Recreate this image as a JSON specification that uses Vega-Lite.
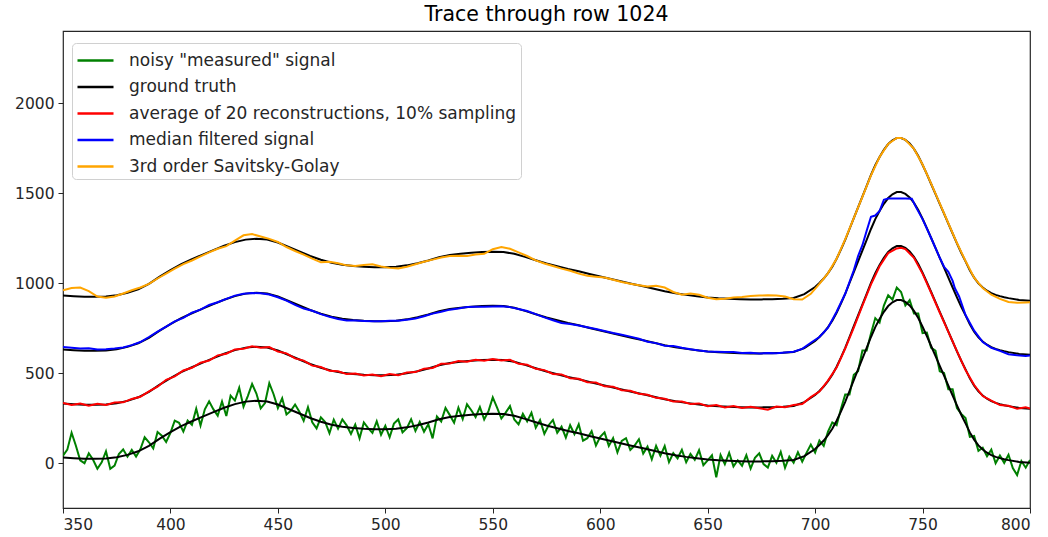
{
  "$schema": "https://vega.github.io/schema/vega-lite/v6.json",
  "width": 967,
  "height": 477,
  "autosize": {"type": "none"},
  "padding": {"left": 63, "top": 31, "right": 18, "bottom": 29},
  "background": "white",
  "title": {"text": "Trace through row 1024", "font": "DejaVu Sans", "fontSize": 20.5, "fontWeight": "normal", "color": "#000000", "offset": 6, "anchor": "middle"},
  "config": {
    "view": {"stroke": "#262626", "strokeWidth": 1.2},
    "axis": {"grid": false, "domain": false, "labelFont": "DejaVu Sans", "labelFontSize": 15.5, "labelColor": "#262626", "tickColor": "#262626", "tickSize": 5, "tickWidth": 1, "labelPadding": 4, "title": null}
  },
  "datasets": {
    "truth": [
      {"x":350,"a":30,"b":330,"c":630,"d":930},{"x":355,"a":27,"b":327,"c":627,"d":927},{"x":360,"a":24,"b":324,"c":624,"d":924},{"x":365,"a":23,"b":323,"c":623,"d":923},{"x":370,"a":25,"b":325,"c":625,"d":925},{"x":375,"a":32,"b":332,"c":632,"d":932},{"x":380,"a":45,"b":345,"c":645,"d":945},{"x":385,"a":65,"b":365,"c":665,"d":965},{"x":390,"a":95,"b":395,"c":695,"d":995},{"x":395,"a":135,"b":435,"c":735,"d":1035},{"x":400,"a":172,"b":472,"c":772,"d":1072},{"x":405,"a":205,"b":505,"c":805,"d":1105},{"x":410,"a":232,"b":532,"c":832,"d":1132},{"x":415,"a":258,"b":558,"c":858,"d":1158},{"x":420,"a":283,"b":583,"c":883,"d":1183},{"x":425,"a":307,"b":607,"c":907,"d":1207},{"x":430,"a":327,"b":627,"c":927,"d":1227},{"x":435,"a":341,"b":641,"c":941,"d":1241},{"x":440,"a":346,"b":646,"c":946,"d":1246},{"x":445,"a":342,"b":642,"c":942,"d":1242},{"x":450,"a":325,"b":625,"c":925,"d":1225},{"x":455,"a":300,"b":600,"c":900,"d":1200},{"x":460,"a":275,"b":575,"c":875,"d":1175},{"x":465,"a":250,"b":550,"c":850,"d":1150},{"x":470,"a":229,"b":529,"c":829,"d":1129},{"x":475,"a":213,"b":513,"c":813,"d":1113},{"x":480,"a":202,"b":502,"c":802,"d":1102},{"x":485,"a":195,"b":495,"c":795,"d":1095},{"x":490,"a":190,"b":490,"c":790,"d":1090},{"x":495,"a":187,"b":487,"c":787,"d":1087},{"x":500,"a":187,"b":487,"c":787,"d":1087},{"x":505,"a":190,"b":490,"c":790,"d":1090},{"x":510,"a":198,"b":498,"c":798,"d":1098},{"x":515,"a":210,"b":510,"c":810,"d":1110},{"x":520,"a":225,"b":525,"c":825,"d":1125},{"x":525,"a":243,"b":543,"c":843,"d":1143},{"x":530,"a":256,"b":556,"c":856,"d":1156},{"x":535,"a":263,"b":563,"c":863,"d":1163},{"x":540,"a":268,"b":568,"c":868,"d":1168},{"x":545,"a":272,"b":572,"c":872,"d":1172},{"x":550,"a":274,"b":574,"c":874,"d":1174},{"x":555,"a":272,"b":572,"c":872,"d":1172},{"x":560,"a":262,"b":562,"c":862,"d":1162},{"x":565,"a":245,"b":545,"c":845,"d":1145},{"x":570,"a":226,"b":526,"c":826,"d":1126},{"x":575,"a":208,"b":508,"c":808,"d":1108},{"x":580,"a":193,"b":493,"c":793,"d":1093},{"x":585,"a":178,"b":478,"c":778,"d":1078},{"x":590,"a":165,"b":465,"c":765,"d":1065},{"x":595,"a":150,"b":450,"c":750,"d":1050},{"x":600,"a":136,"b":436,"c":736,"d":1036},{"x":605,"a":122,"b":422,"c":722,"d":1022},{"x":610,"a":108,"b":408,"c":708,"d":1008},{"x":615,"a":95,"b":395,"c":695,"d":995},{"x":620,"a":82,"b":382,"c":682,"d":982},{"x":625,"a":68,"b":368,"c":668,"d":968},{"x":630,"a":54,"b":354,"c":654,"d":954},{"x":635,"a":43,"b":343,"c":643,"d":943},{"x":640,"a":34,"b":334,"c":634,"d":934},{"x":645,"a":27,"b":327,"c":627,"d":927},{"x":650,"a":20,"b":320,"c":620,"d":920},{"x":655,"a":15,"b":315,"c":615,"d":915},{"x":660,"a":12,"b":312,"c":612,"d":912},{"x":665,"a":10,"b":310,"c":610,"d":910},{"x":670,"a":9,"b":309,"c":609,"d":909},{"x":675,"a":9,"b":309,"c":609,"d":909},{"x":680,"a":10,"b":310,"c":610,"d":910},{"x":685,"a":12,"b":312,"c":612,"d":912},{"x":690,"a":17,"b":317,"c":617,"d":917},{"x":695,"a":38,"b":338,"c":638,"d":938},{"x":700,"a":78,"b":378,"c":678,"d":978},{"x":702,"a":100,"b":400,"c":700,"d":1000},{"x":704,"a":125,"b":425,"c":725,"d":1025},{"x":706,"a":155,"b":455,"c":755,"d":1055},{"x":708,"a":190,"b":490,"c":790,"d":1090},{"x":710,"a":235,"b":535,"c":835,"d":1135},{"x":712,"a":285,"b":585,"c":885,"d":1185},{"x":714,"a":340,"b":640,"c":940,"d":1240},{"x":716,"a":400,"b":700,"c":1000,"d":1300},{"x":718,"a":460,"b":760,"c":1060,"d":1360},{"x":720,"a":520,"b":820,"c":1120,"d":1420},{"x":722,"a":580,"b":880,"c":1180,"d":1480},{"x":724,"a":640,"b":940,"c":1240,"d":1540},{"x":726,"a":700,"b":1000,"c":1300,"d":1600},{"x":728,"a":755,"b":1055,"c":1355,"d":1655},{"x":730,"a":800,"b":1100,"c":1400,"d":1700},{"x":732,"a":840,"b":1140,"c":1440,"d":1740},{"x":734,"a":872,"b":1172,"c":1472,"d":1772},{"x":736,"a":893,"b":1193,"c":1493,"d":1793},{"x":738,"a":905,"b":1205,"c":1505,"d":1805},{"x":740,"a":905,"b":1205,"c":1505,"d":1805},{"x":742,"a":895,"b":1195,"c":1495,"d":1795},{"x":744,"a":875,"b":1175,"c":1475,"d":1775},{"x":746,"a":845,"b":1145,"c":1445,"d":1745},{"x":748,"a":805,"b":1105,"c":1405,"d":1705},{"x":750,"a":757,"b":1057,"c":1357,"d":1657},{"x":752,"a":705,"b":1005,"c":1305,"d":1605},{"x":754,"a":650,"b":950,"c":1250,"d":1550},{"x":756,"a":595,"b":895,"c":1195,"d":1495},{"x":758,"a":540,"b":840,"c":1140,"d":1440},{"x":760,"a":485,"b":785,"c":1085,"d":1385},{"x":762,"a":430,"b":730,"c":1030,"d":1330},{"x":764,"a":375,"b":675,"c":975,"d":1275},{"x":766,"a":320,"b":620,"c":920,"d":1220},{"x":768,"a":268,"b":568,"c":868,"d":1168},{"x":770,"a":220,"b":520,"c":820,"d":1120},{"x":772,"a":170,"b":470,"c":770,"d":1070},{"x":774,"a":130,"b":430,"c":730,"d":1030},{"x":776,"a":98,"b":398,"c":698,"d":998},{"x":778,"a":75,"b":375,"c":675,"d":975},{"x":780,"a":57,"b":357,"c":657,"d":957},{"x":782,"a":44,"b":344,"c":644,"d":944},{"x":784,"a":34,"b":334,"c":634,"d":934},{"x":786,"a":27,"b":327,"c":627,"d":927},{"x":788,"a":21,"b":321,"c":621,"d":921},{"x":790,"a":16,"b":316,"c":616,"d":916},{"x":795,"a":6,"b":306,"c":606,"d":906},{"x":800,"a":2,"b":302,"c":602,"d":902}
    ],
    "noisy": [
      {"x":350,"y":40},{"x":352,"y":74},{"x":354,"y":168},{"x":356,"y":96},{"x":358,"y":15},{"x":360,"y":-1},{"x":362,"y":54},{"x":364,"y":18},{"x":366,"y":-32},{"x":368,"y":4},{"x":370,"y":65},{"x":372,"y":-32},{"x":374,"y":-14},{"x":376,"y":50},{"x":378,"y":75},{"x":380,"y":35},{"x":382,"y":73},{"x":384,"y":36},{"x":386,"y":76},{"x":388,"y":143},{"x":390,"y":115},{"x":392,"y":81},{"x":394,"y":172},{"x":396,"y":152},{"x":398,"y":117},{"x":400,"y":167},{"x":402,"y":235},{"x":404,"y":223},{"x":406,"y":175},{"x":408,"y":236},{"x":410,"y":212},{"x":412,"y":302},{"x":414,"y":208},{"x":416,"y":298},{"x":418,"y":343},{"x":420,"y":298},{"x":422,"y":263},{"x":424,"y":342},{"x":426,"y":261},{"x":428,"y":374},{"x":430,"y":347},{"x":432,"y":418},{"x":434,"y":313},{"x":436,"y":372},{"x":438,"y":439},{"x":440,"y":386},{"x":442,"y":304},{"x":444,"y":333},{"x":446,"y":443},{"x":448,"y":382},{"x":450,"y":305},{"x":452,"y":360},{"x":454,"y":270},{"x":456,"y":290},{"x":458,"y":325},{"x":460,"y":285},{"x":462,"y":235},{"x":464,"y":310},{"x":466,"y":226},{"x":468,"y":192},{"x":470,"y":254},{"x":472,"y":228},{"x":474,"y":166},{"x":476,"y":241},{"x":478,"y":191},{"x":480,"y":242},{"x":482,"y":209},{"x":484,"y":161},{"x":486,"y":214},{"x":488,"y":137},{"x":490,"y":225},{"x":492,"y":194},{"x":494,"y":167},{"x":496,"y":232},{"x":498,"y":157},{"x":500,"y":207},{"x":502,"y":143},{"x":504,"y":219},{"x":506,"y":242},{"x":508,"y":170},{"x":510,"y":193},{"x":512,"y":243},{"x":514,"y":178},{"x":516,"y":228},{"x":518,"y":174},{"x":520,"y":215},{"x":522,"y":137},{"x":524,"y":259},{"x":526,"y":231},{"x":528,"y":306},{"x":530,"y":266},{"x":532,"y":224},{"x":534,"y":307},{"x":536,"y":244},{"x":538,"y":326},{"x":540,"y":293},{"x":542,"y":255},{"x":544,"y":311},{"x":546,"y":242},{"x":548,"y":288},{"x":550,"y":364},{"x":552,"y":308},{"x":554,"y":247},{"x":556,"y":280},{"x":558,"y":316},{"x":560,"y":242},{"x":562,"y":215},{"x":564,"y":273},{"x":566,"y":231},{"x":568,"y":279},{"x":570,"y":196},{"x":572,"y":239},{"x":574,"y":162},{"x":576,"y":210},{"x":578,"y":239},{"x":580,"y":168},{"x":582,"y":202},{"x":584,"y":141},{"x":586,"y":210},{"x":588,"y":160},{"x":590,"y":215},{"x":592,"y":124},{"x":594,"y":138},{"x":596,"y":177},{"x":598,"y":97},{"x":600,"y":146},{"x":602,"y":170},{"x":604,"y":95},{"x":606,"y":139},{"x":608,"y":59},{"x":610,"y":123},{"x":612,"y":138},{"x":614,"y":73},{"x":616,"y":97},{"x":618,"y":132},{"x":620,"y":52},{"x":622,"y":91},{"x":624,"y":21},{"x":626,"y":95},{"x":628,"y":40},{"x":630,"y":94},{"x":632,"y":5},{"x":634,"y":55},{"x":636,"y":26},{"x":638,"y":73},{"x":640,"y":4},{"x":642,"y":51},{"x":644,"y":18},{"x":646,"y":71},{"x":648,"y":-12},{"x":650,"y":15},{"x":652,"y":43},{"x":654,"y":-79},{"x":656,"y":44},{"x":658,"y":-7},{"x":660,"y":57},{"x":662,"y":-19},{"x":664,"y":15},{"x":666,"y":-15},{"x":668,"y":44},{"x":670,"y":-31},{"x":672,"y":29},{"x":674,"y":54},{"x":676,"y":-6},{"x":678,"y":-25},{"x":680,"y":40},{"x":682,"y":1},{"x":684,"y":62},{"x":686,"y":-27},{"x":688,"y":35},{"x":690,"y":2},{"x":692,"y":60},{"x":694,"y":8},{"x":696,"y":56},{"x":698,"y":102},{"x":700,"y":58},{"x":702,"y":125},{"x":704,"y":95},{"x":706,"y":175},{"x":708,"y":225},{"x":710,"y":210},{"x":712,"y":300},{"x":714,"y":380},{"x":716,"y":380},{"x":718,"y":490},{"x":720,"y":510},{"x":722,"y":625},{"x":724,"y":625},{"x":726,"y":720},{"x":728,"y":805},{"x":730,"y":780},{"x":732,"y":875},{"x":734,"y":932},{"x":736,"y":908},{"x":738,"y":975},{"x":740,"y":950},{"x":742,"y":875},{"x":744,"y":905},{"x":746,"y":830},{"x":748,"y":830},{"x":750,"y":722},{"x":752,"y":725},{"x":754,"y":640},{"x":756,"y":625},{"x":758,"y":510},{"x":760,"y":500},{"x":762,"y":410},{"x":764,"y":410},{"x":766,"y":305},{"x":768,"y":273},{"x":770,"y":250},{"x":772,"y":145},{"x":774,"y":150},{"x":776,"y":68},{"x":778,"y":85},{"x":780,"y":37},{"x":782,"y":74},{"x":784,"y":-1},{"x":786,"y":42},{"x":788,"y":1},{"x":790,"y":46},{"x":792,"y":-28},{"x":794,"y":-67},{"x":796,"y":11},{"x":798,"y":-26},{"x":800,"y":17}
    ],
    "red": [
      {"x":350,"y":333},{"x":354,"y":322},{"x":358,"y":331},{"x":362,"y":318},{"x":366,"y":329},{"x":370,"y":322},{"x":374,"y":336},{"x":378,"y":337},{"x":382,"y":356},{"x":386,"y":368},{"x":390,"y":398},{"x":394,"y":424},{"x":398,"y":462},{"x":402,"y":481},{"x":406,"y":514},{"x":410,"y":529},{"x":414,"y":557},{"x":418,"y":569},{"x":422,"y":598},{"x":426,"y":607},{"x":430,"y":631},{"x":434,"y":635},{"x":438,"y":649},{"x":442,"y":640},{"x":446,"y":644},{"x":450,"y":619},{"x":454,"y":609},{"x":458,"y":581},{"x":462,"y":569},{"x":466,"y":541},{"x":470,"y":533},{"x":474,"y":512},{"x":478,"y":510},{"x":482,"y":494},{"x":486,"y":497},{"x":490,"y":486},{"x":494,"y":491},{"x":498,"y":482},{"x":502,"y":494},{"x":506,"y":487},{"x":510,"y":503},{"x":514,"y":505},{"x":518,"y":524},{"x":522,"y":528},{"x":526,"y":551},{"x":530,"y":553},{"x":534,"y":566},{"x":538,"y":562},{"x":542,"y":574},{"x":546,"y":568},{"x":550,"y":578},{"x":554,"y":569},{"x":558,"y":573},{"x":562,"y":551},{"x":566,"y":546},{"x":570,"y":523},{"x":574,"y":516},{"x":578,"y":495},{"x":582,"y":492},{"x":586,"y":471},{"x":590,"y":468},{"x":594,"y":449},{"x":598,"y":447},{"x":602,"y":426},{"x":606,"y":424},{"x":610,"y":404},{"x":614,"y":401},{"x":618,"y":385},{"x":622,"y":379},{"x":626,"y":362},{"x":630,"y":357},{"x":634,"y":341},{"x":638,"y":342},{"x":642,"y":328},{"x":646,"y":331},{"x":650,"y":316},{"x":654,"y":322},{"x":658,"y":309},{"x":662,"y":316},{"x":666,"y":306},{"x":670,"y":313},{"x":674,"y":304},{"x":678,"y":296},{"x":682,"y":314},{"x":686,"y":310},{"x":690,"y":322},{"x":694,"y":328},{"x":698,"y":366},{"x":702,"y":397},{"x":706,"y":458},{"x":710,"y":530},{"x":714,"y":636},{"x":718,"y":752},{"x":722,"y":874},{"x":726,"y":992},{"x":730,"y":1093},{"x":734,"y":1166},{"x":738,"y":1192},{"x":740,"y":1196},{"x":742,"y":1188},{"x":746,"y":1140},{"x":750,"y":1052},{"x":754,"y":946},{"x":758,"y":836},{"x":762,"y":728},{"x":766,"y":622},{"x":770,"y":516},{"x":774,"y":433},{"x":778,"y":372},{"x":782,"y":346},{"x":786,"y":322},{"x":790,"y":318},{"x":794,"y":301},{"x":798,"y":309},{"x":800,"y":303}
    ],
    "blue": [
      {"x":350,"y":645},{"x":354,"y":640},{"x":358,"y":636},{"x":362,"y":638},{"x":366,"y":630},{"x":370,"y":632},{"x":374,"y":636},{"x":378,"y":642},{"x":382,"y":655},{"x":386,"y":672},{"x":390,"y":700},{"x":394,"y":730},{"x":398,"y":758},{"x":402,"y":787},{"x":406,"y":806},{"x":410,"y":835},{"x":414,"y":852},{"x":418,"y":878},{"x":422,"y":893},{"x":426,"y":912},{"x":430,"y":930},{"x":434,"y":940},{"x":438,"y":944},{"x":442,"y":943},{"x":446,"y":936},{"x":450,"y":921},{"x":454,"y":902},{"x":458,"y":878},{"x":462,"y":858},{"x":466,"y":846},{"x":470,"y":827},{"x":474,"y":812},{"x":478,"y":800},{"x":482,"y":792},{"x":486,"y":792},{"x":490,"y":789},{"x":494,"y":787},{"x":498,"y":788},{"x":502,"y":790},{"x":506,"y":790},{"x":510,"y":796},{"x":514,"y":803},{"x":518,"y":815},{"x":522,"y":830},{"x":526,"y":840},{"x":530,"y":852},{"x":534,"y":858},{"x":538,"y":866},{"x":542,"y":868},{"x":546,"y":868},{"x":550,"y":869},{"x":554,"y":871},{"x":558,"y":866},{"x":562,"y":856},{"x":566,"y":844},{"x":570,"y":827},{"x":574,"y":809},{"x":578,"y":793},{"x":582,"y":778},{"x":586,"y":772},{"x":590,"y":764},{"x":594,"y":754},{"x":598,"y":744},{"x":602,"y":733},{"x":606,"y":722},{"x":610,"y":713},{"x":614,"y":702},{"x":618,"y":690},{"x":622,"y":674},{"x":626,"y":666},{"x":630,"y":652},{"x":634,"y":650},{"x":638,"y":640},{"x":642,"y":632},{"x":646,"y":625},{"x":650,"y":620},{"x":654,"y":618},{"x":658,"y":617},{"x":662,"y":616},{"x":666,"y":611},{"x":670,"y":612},{"x":674,"y":609},{"x":678,"y":611},{"x":682,"y":610},{"x":686,"y":614},{"x":690,"y":618},{"x":694,"y":634},{"x":698,"y":668},{"x":702,"y":700},{"x":706,"y":752},{"x":710,"y":840},{"x":714,"y":940},{"x":718,"y":1070},{"x":720,"y":1150},{"x":722,"y":1210},{"x":724,"y":1290},{"x":726,"y":1368},{"x":728,"y":1375},{"x":730,"y":1400},{"x":732,"y":1462},{"x":734,"y":1470},{"x":738,"y":1470},{"x":742,"y":1470},{"x":745,"y":1468},{"x":747,"y":1420},{"x":750,"y":1355},{"x":754,"y":1250},{"x":758,"y":1140},{"x":760,"y":1090},{"x":762,"y":1062},{"x":764,"y":1012},{"x":765,"y":972},{"x":767,"y":925},{"x":770,"y":822},{"x":774,"y":735},{"x":778,"y":672},{"x":782,"y":640},{"x":786,"y":623},{"x":790,"y":604},{"x":794,"y":598},{"x":798,"y":594},{"x":800,"y":597}
    ],
    "orange": [
      {"x":350,"y":960},{"x":354,"y":972},{"x":358,"y":975},{"x":362,"y":955},{"x":366,"y":925},{"x":370,"y":918},{"x":374,"y":925},{"x":378,"y":942},{"x":382,"y":960},{"x":386,"y":975},{"x":390,"y":995},{"x":394,"y":1025},{"x":398,"y":1052},{"x":402,"y":1080},{"x":406,"y":1105},{"x":410,"y":1125},{"x":414,"y":1148},{"x":418,"y":1170},{"x":422,"y":1190},{"x":426,"y":1205},{"x":430,"y":1235},{"x":434,"y":1265},{"x":438,"y":1272},{"x":442,"y":1258},{"x":446,"y":1245},{"x":450,"y":1228},{"x":454,"y":1200},{"x":458,"y":1178},{"x":462,"y":1158},{"x":466,"y":1135},{"x":470,"y":1115},{"x":474,"y":1118},{"x":478,"y":1110},{"x":482,"y":1098},{"x":486,"y":1094},{"x":490,"y":1100},{"x":494,"y":1104},{"x":498,"y":1092},{"x":502,"y":1084},{"x":506,"y":1080},{"x":510,"y":1090},{"x":514,"y":1104},{"x":518,"y":1118},{"x":522,"y":1130},{"x":526,"y":1142},{"x":530,"y":1150},{"x":534,"y":1152},{"x":538,"y":1150},{"x":542,"y":1158},{"x":546,"y":1162},{"x":550,"y":1188},{"x":554,"y":1200},{"x":558,"y":1190},{"x":562,"y":1170},{"x":566,"y":1150},{"x":570,"y":1126},{"x":574,"y":1108},{"x":578,"y":1094},{"x":582,"y":1080},{"x":586,"y":1068},{"x":590,"y":1052},{"x":594,"y":1040},{"x":598,"y":1035},{"x":602,"y":1030},{"x":606,"y":1018},{"x":610,"y":1006},{"x":614,"y":996},{"x":618,"y":988},{"x":622,"y":980},{"x":626,"y":985},{"x":630,"y":975},{"x":634,"y":950},{"x":638,"y":935},{"x":642,"y":942},{"x":646,"y":935},{"x":650,"y":918},{"x":654,"y":910},{"x":658,"y":912},{"x":662,"y":920},{"x":666,"y":922},{"x":670,"y":928},{"x":674,"y":930},{"x":678,"y":932},{"x":682,"y":930},{"x":686,"y":925},{"x":690,"y":910},{"x":694,"y":908},{"x":698,"y":940},{"x":702,"y":995},{"x":706,"y":1055},{"x":710,"y":1135},{"x":714,"y":1242},{"x":718,"y":1360},{"x":722,"y":1478},{"x":726,"y":1598},{"x":730,"y":1700},{"x":734,"y":1772},{"x":738,"y":1806},{"x":740,"y":1806},{"x":742,"y":1796},{"x":746,"y":1746},{"x":750,"y":1658},{"x":754,"y":1552},{"x":758,"y":1442},{"x":762,"y":1332},{"x":766,"y":1222},{"x":770,"y":1122},{"x":774,"y":1030},{"x":778,"y":972},{"x":782,"y":935},{"x":786,"y":912},{"x":790,"y":895},{"x":794,"y":890},{"x":798,"y":892},{"x":800,"y":893}
    ]
  },
  "encoding": {
    "x": {"field": "x", "type": "quantitative", "scale": {"domain": [350, 800], "nice": false, "zero": false}, "axis": {"values": [350, 400, 450, 500, 550, 600, 650, 700, 750, 800]}},
    "y": {"field": "y", "type": "quantitative", "scale": {"domain": [-250, 2400], "nice": false, "zero": false}, "axis": {"values": [0, 500, 1000, 1500, 2000], "format": "d"}}
  },
  "layer": [
    {
      "data": {"name": "noisy"},
      "mark": {"type": "line", "strokeWidth": 2, "clip": true},
      "encoding": {
        "color": {"datum": "noisy \"measured\" signal", "type": "nominal",
          "scale": {"domain": ["noisy \"measured\" signal", "ground truth", "average of 20 reconstructions, 10% sampling", "median filtered signal", "3rd order Savitsky-Golay"], "range": ["#008000", "#000000", "#ff0000", "#0000ff", "#ffa500"]},
          "legend": {"orient": "none", "legendX": 9, "legendY": 12, "title": null, "symbolType": "M-1,0L2,0", "symbolSize": 576, "symbolStrokeWidth": 2.5, "labelFont": "DejaVu Sans", "labelFontSize": 17, "labelColor": "#262626", "labelLimit": 600, "labelOffset": 26, "rowPadding": 4.5, "padding": 4, "fillColor": "#ffffff", "strokeColor": "#d0d0d0", "cornerRadius": 4}}
      }
    },
    {
      "data": {"name": "truth"},
      "transform": [{"fold": ["a", "b", "c", "d"], "as": ["k", "y"]}],
      "mark": {"type": "line", "strokeWidth": 2, "clip": true},
      "encoding": {
        "detail": {"field": "k", "type": "nominal"},
        "color": {"datum": "ground truth", "type": "nominal"}
      }
    },
    {
      "data": {"name": "red"},
      "mark": {"type": "line", "strokeWidth": 2, "clip": true},
      "encoding": {"color": {"datum": "average of 20 reconstructions, 10% sampling", "type": "nominal"}}
    },
    {
      "data": {"name": "blue"},
      "mark": {"type": "line", "strokeWidth": 2, "clip": true},
      "encoding": {"color": {"datum": "median filtered signal", "type": "nominal"}}
    },
    {
      "data": {"name": "orange"},
      "mark": {"type": "line", "strokeWidth": 2, "clip": true},
      "encoding": {"color": {"datum": "3rd order Savitsky-Golay", "type": "nominal"}}
    }
  ]
}
